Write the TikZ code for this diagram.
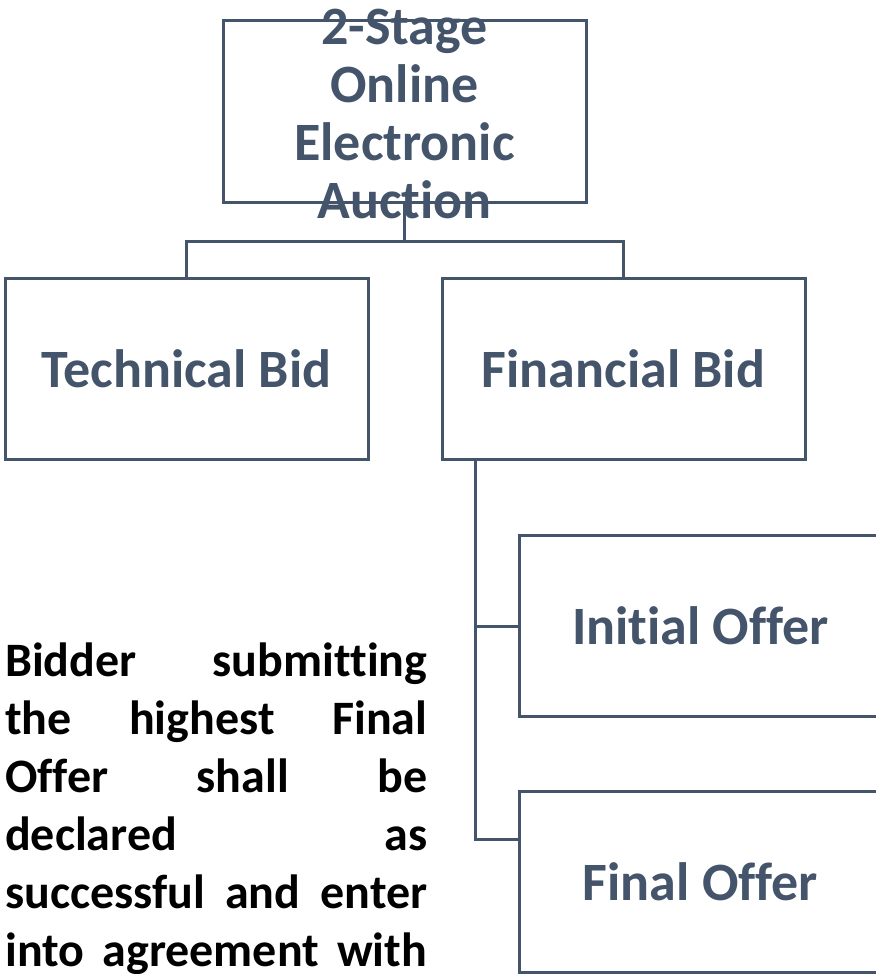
\documentclass[tikz,border=0pt]{standalone}
\usepackage{fontspec}
\setmainfont{Carlito}[Ligatures=NoCommon]
\usetikzlibrary{calc}
\definecolor{slate}{HTML}{44546A}
\newcommand{\fullline}[1]{\makebox[422pt][s]{#1}\\}
\begin{document}
\begin{tikzpicture}[x=1pt,y=-1pt,
  box/.style={draw=slate, line width=3pt, minimum width=363pt, minimum height=181pt, inner sep=0pt},
  boxtext/.style={text=slate, font=\bfseries\fontsize{54}{58}\selectfont, align=center, inner sep=0pt},
  link/.style={draw=slate, line width=3pt}]
\useasboundingbox (0,0) rectangle (875,974);

% boxes
\node[box] (top) at (404.5,111.5) {};
\node[box] (tech) at (186.5,368.5) {};
\node[box] (fin) at (623.5,368.5) {};
\node[box] (init) at (700.5,626) {};
\node[box] (final) at (700.5,882) {};

% box labels
\node[boxtext] (toplbl) at (404.5,114) {2-Stage\\Online\\Electronic\\Auction};
\node[boxtext] (techlbl) at (tech.center) {Technical Bid};
\node[boxtext] (finlbl) at (fin.center) {Financial Bid};
\node[boxtext] (initlbl) at (init.center) {Initial Offer};
\node[boxtext] (finallbl) at (final.center) {Final Offer};

% connectors
\coordinate (split) at ($(top.south)+(0,38)$);
\draw[link] (top.south) -- (split);
\draw[link] (split) -| (tech.north);
\draw[link] (split) -| (fin.north);
\coordinate (trunk) at ($(fin.south west)+(35,0)$);
\coordinate (finalin) at ($(final.north west)+(0,49)$);
\draw[link] (trunk) |- (init.west);
\draw[link] (trunk) |- (finalin);

% note paragraph, every line set to the full width
\node[anchor=north west, inner sep=0pt, align=left,
      font=\bfseries\fontsize{48}{58}\selectfont] (note) at (5,643)
  {\fullline{Bidder submitting}\fullline{the highest Final}\fullline{Offer shall be}\fullline{declared as}\fullline{successful and enter}\makebox[422pt][s]{into agreement with}};
\end{tikzpicture}
\end{document}
